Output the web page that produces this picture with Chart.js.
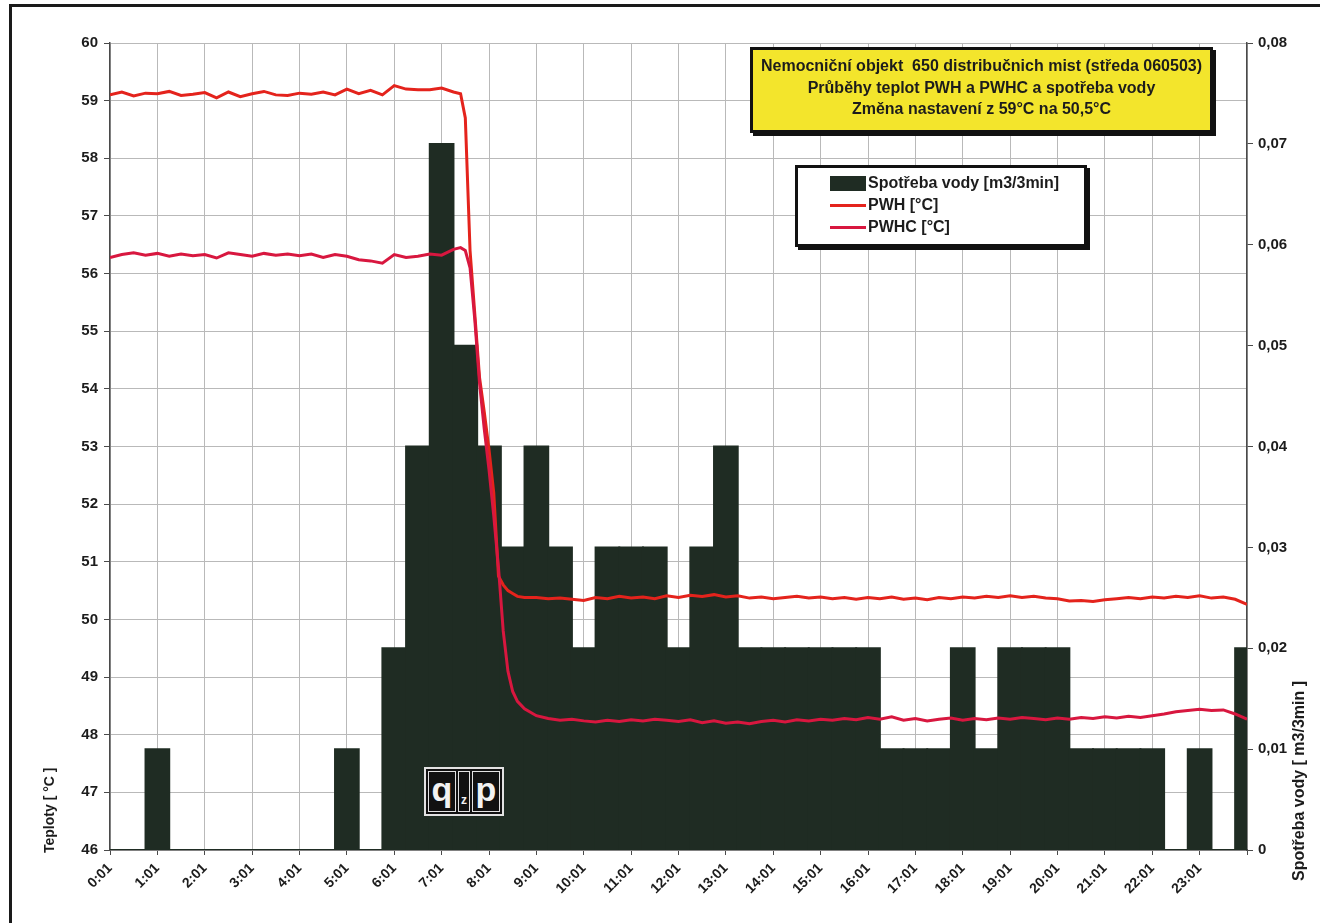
<!DOCTYPE html>
<html>
<head>
<meta charset="utf-8">
<title>Nemocniční objekt – průběhy teplot PWH a PWHC a spotřeba vody</title>
<script src="https://cdn.jsdelivr.net/npm/chart.js@4.4.1/dist/chart.umd.min.js"></script>
<style>
  body { margin: 0; background: #fff; font-family: "Liberation Sans", Arial, sans-serif; }
  #wrap { position: relative; width: 1320px; height: 923px; overflow: hidden; }
  #chart { position: absolute; left: 0; top: 0; }
  .frame { position: absolute; left: 9px; top: 4px; width: 1330px; height: 960px;
           border-left: 3px solid #1a1a1a; border-top: 3px solid #1a1a1a; pointer-events: none; }
  .titlebox { position: absolute; left: 750px; top: 47px; width: 457px; height: 75px;
              background: #f3e52c; border: 3px solid #111; box-shadow: 3px 3px 0 #111;
              text-align: center; font-weight: bold; font-size: 16px; line-height: 21.5px;
              color: #1c1c1c; padding-top: 5px; box-sizing: content-box; }
  .titlebox div { white-space: pre; }
  .legend { position: absolute; left: 795px; top: 165px; width: 286px; height: 72px;
            background: #fff; border: 3px solid #111; box-shadow: 3px 3px 0 #111; padding-top: 4px; }
  .legend .row { height: 22px; display: flex; align-items: center; padding-left: 32px;
                 font-weight: bold; font-size: 16px; color: #1c1c1c; }
  .legend .sw { display: inline-block; width: 36px; margin-right: 2px; }
  .legend .sw.box { height: 15px; }
  .legend .sw.line { height: 3px; }
  .logo { position: absolute; left: 424px; top: 767px; width: 72px; height: 41px;
          border: 2px solid #e2e2e2; background: #111; padding: 2px; display: flex; gap: 2px; }
  .logo span { display: flex; align-items: center; justify-content: center; color: #f2f2f2;
               border: 1.5px solid #e2e2e2; font-weight: bold; box-sizing: border-box; }
  .logo .big { flex: 1; font-size: 34px; line-height: 1; padding-bottom: 6px; }
  .logo .small { width: 12px; font-size: 12px; align-items: flex-end; padding-bottom: 4px; }
</style>
</head>
<body>
<div id="wrap">
  <canvas id="chart" width="1320" height="923"></canvas>
  <div class="frame"></div>
  <div class="titlebox">
    <div>Nemocniční objekt  650 distribučnich mist (středa 060503)</div>
    <div>Průběhy teplot PWH a PWHC a spotřeba vody</div>
    <div>Změna nastavení z 59°C na 50,5°C</div>
  </div>
  <div class="legend" id="legend"></div>
  <div class="logo"><span class="big">q</span><span class="small">z</span><span class="big">p</span></div>
</div>
<script>
// Half-hour water consumption bins (centre hour of each bin)
const barHours = [0, 0.5, 1, 1.5, 2, 2.5, 3, 3.5, 4, 4.5, 5, 5.5, 6, 6.5, 7, 7.5, 8, 8.5, 9, 9.5,
  10, 10.5, 11, 11.5, 12, 12.5, 13, 13.5, 14, 14.5, 15, 15.5, 16, 16.5, 17, 17.5, 18, 18.5, 19, 19.5,
  20, 20.5, 21, 21.5, 22, 22.5, 23, 23.5, 24];
const waterUse = [0, 0, 0.01, 0, 0, 0, 0, 0, 0, 0, 0.01, 0, 0.02, 0.04, 0.07, 0.05, 0.04, 0.03, 0.04, 0.03,
  0.02, 0.03, 0.03, 0.03, 0.02, 0.03, 0.04, 0.02, 0.02, 0.02, 0.02, 0.02, 0.02, 0.01, 0.01, 0.01, 0.02, 0.01, 0.02, 0.02,
  0.02, 0.01, 0.01, 0.01, 0.01, 0, 0.01, 0, 0.02];

// Temperature samples (hour of day)
const lineHours = [0, 0.25, 0.5, 0.75, 1, 1.25, 1.5, 1.75, 2, 2.25, 2.5, 2.75, 3, 3.25, 3.5, 3.75,
  4, 4.25, 4.5, 4.75, 5, 5.25, 5.5, 5.75, 6, 6.25, 6.5, 6.75, 7, 7.25,
  7.4, 7.5, 7.6, 7.7, 7.8, 7.9, 8, 8.1, 8.2, 8.3, 8.4, 8.5, 8.6, 8.75,
  9, 9.25, 9.5, 9.75, 10, 10.25, 10.5, 10.75, 11, 11.25, 11.5, 11.75, 12, 12.25, 12.5, 12.75,
  13, 13.25, 13.5, 13.75, 14, 14.25, 14.5, 14.75, 15, 15.25, 15.5, 15.75, 16, 16.25, 16.5, 16.75,
  17, 17.25, 17.5, 17.75, 18, 18.25, 18.5, 18.75, 19, 19.25, 19.5, 19.75, 20, 20.25, 20.5, 20.75,
  21, 21.25, 21.5, 21.75, 22, 22.25, 22.5, 22.75, 23, 23.25, 23.5, 23.75, 24];
const pwhTemps = [59.10, 59.15, 59.08, 59.13, 59.12, 59.16, 59.09, 59.11, 59.14, 59.05, 59.15, 59.07, 59.12, 59.16, 59.10, 59.09,
  59.13, 59.11, 59.15, 59.10, 59.20, 59.12, 59.18, 59.10, 59.26, 59.20, 59.19, 59.19, 59.22, 59.15,
  59.12, 58.70, 56.40, 55.30, 54.20, 53.60, 52.95, 52.20, 50.75, 50.60, 50.50, 50.45, 50.40, 50.38,
  50.38, 50.36, 50.37, 50.35, 50.33, 50.38, 50.36, 50.40, 50.37, 50.39, 50.36, 50.41, 50.38, 50.42, 50.40, 50.43,
  50.39, 50.41, 50.37, 50.39, 50.36, 50.38, 50.40, 50.37, 50.39, 50.36, 50.38, 50.35, 50.38, 50.36, 50.39, 50.35,
  50.37, 50.34, 50.38, 50.36, 50.39, 50.37, 50.40, 50.38, 50.41, 50.38, 50.40, 50.37, 50.36, 50.32, 50.33, 50.31,
  50.34, 50.36, 50.38, 50.36, 50.39, 50.37, 50.40, 50.38, 50.41, 50.37, 50.39, 50.35, 50.26];
const pwhcTemps = [56.28, 56.33, 56.36, 56.32, 56.35, 56.30, 56.34, 56.31, 56.33, 56.27, 56.36, 56.33, 56.30, 56.35, 56.32, 56.34,
  56.31, 56.34, 56.28, 56.33, 56.30, 56.24, 56.22, 56.18, 56.33, 56.28, 56.30, 56.34, 56.32, 56.42,
  56.45, 56.40, 56.10, 55.20, 54.10, 53.30, 52.60, 51.80, 50.90, 49.80, 49.10, 48.75, 48.58, 48.45,
  48.33, 48.28, 48.25, 48.27, 48.24, 48.22, 48.25, 48.23, 48.26, 48.24, 48.27, 48.25, 48.23, 48.26, 48.21, 48.24,
  48.20, 48.22, 48.19, 48.23, 48.25, 48.22, 48.26, 48.24, 48.27, 48.25, 48.28, 48.26, 48.30, 48.27, 48.31, 48.25,
  48.28, 48.24, 48.27, 48.29, 48.25, 48.28, 48.26, 48.29, 48.27, 48.30, 48.28, 48.26, 48.29, 48.27, 48.30, 48.28,
  48.31, 48.29, 48.32, 48.30, 48.33, 48.36, 48.40, 48.42, 48.44, 48.42, 48.43, 48.36, 48.27];

// Tick labels
const hourLabels = ['0:01', '1:01', '2:01', '3:01', '4:01', '5:01', '6:01', '7:01', '8:01', '9:01', '10:01', '11:01',
  '12:01', '13:01', '14:01', '15:01', '16:01', '17:01', '18:01', '19:01', '20:01', '21:01', '22:01', '23:01'];
const waterTickLabels = ['0', '0,01', '0,02', '0,03', '0,04', '0,05', '0,06', '0,07', '0,08'];

const FONT = '"Liberation Sans", Arial, sans-serif';
const gridColor = '#b9b9b9';
const axisColor = '#4a4a4a';

// vertical axis titles read bottom-to-top on both sides
const axisTitles = {
  id: 'axisTitles',
  afterDraw(chart) {
    const ctx = chart.ctx;
    const area = chart.chartArea;
    ctx.save();
    ctx.fillStyle = '#1c1c1c';
    ctx.textBaseline = 'middle';
    ctx.textAlign = 'left';
    ctx.font = 'bold 14px ' + FONT;
    ctx.translate(50, area.bottom + 3);
    ctx.rotate(-Math.PI / 2);
    ctx.fillText('Teploty [ °C ]', 0, 0);
    ctx.restore();

    ctx.save();
    ctx.fillStyle = '#1c1c1c';
    ctx.textBaseline = 'middle';
    ctx.textAlign = 'left';
    ctx.font = 'bold 16px ' + FONT;
    ctx.translate(area.right + 53, 881);
    ctx.rotate(-Math.PI / 2);
    ctx.fillText('Spotřeba vody [ m3/3min ]', 0, 0);
    ctx.restore();
  }
};

const tickFont = { family: FONT, size: 15, weight: 'bold' };

const chart = new Chart(document.getElementById('chart'), {
  type: 'bar',
  data: {
    datasets: [
      {
        type: 'bar',
        label: 'Spotřeba vody [m3/3min]',
        data: barHours.map((h, i) => ({ x: h, y: waterUse[i] })),
        yAxisID: 'y1',
        backgroundColor: '#1f2c23',
        borderWidth: 0,
        inflateAmount: 1,
        barPercentage: 1,
        categoryPercentage: 1,
        clip: 0,
        order: 2
      },
      {
        type: 'line',
        label: 'PWH [°C]',
        data: lineHours.map((h, i) => ({ x: h, y: pwhTemps[i] })),
        yAxisID: 'y',
        borderColor: '#e4231c',
        borderWidth: 3,
        pointRadius: 0,
        tension: 0,
        order: 1
      },
      {
        type: 'line',
        label: 'PWHC [°C]',
        data: lineHours.map((h, i) => ({ x: h, y: pwhcTemps[i] })),
        yAxisID: 'y',
        borderColor: '#d8173f',
        borderWidth: 3,
        pointRadius: 0,
        tension: 0,
        order: 0
      }
    ]
  },
  options: {
    responsive: false,
    animation: false,
    devicePixelRatio: 1,
    layout: { padding: { top: 43, left: 0, right: 0, bottom: 0 } },
    plugins: {
      legend: { display: false },
      tooltip: { enabled: false }
    },
    scales: {
      x: {
        type: 'linear',
        min: 0,
        max: 24,
        offset: false,
        grid: { color: gridColor, offset: false, tickLength: 5, tickColor: axisColor },
        border: { color: axisColor, width: 1.5 },
        ticks: {
          stepSize: 1,
          autoSkip: false,
          minRotation: 45,
          maxRotation: 45,
          padding: 5,
          color: '#1c1c1c',
          font: { family: FONT, size: 14, weight: 'bold' },
          callback: (value) => hourLabels[value] ?? ''
        },
        afterFit: (scale) => { scale.height = 73; }
      },
      y: {
        position: 'left',
        min: 46,
        max: 60,
        grid: { color: gridColor, tickLength: 6, tickColor: axisColor },
        border: { color: axisColor, width: 1.5 },
        ticks: { stepSize: 1, padding: 6, color: '#1c1c1c', font: tickFont },
        afterFit: (scale) => { scale.width = 110; }
      },
      y1: {
        position: 'right',
        min: 0,
        max: 0.08,
        grid: { drawOnChartArea: false, tickLength: 6, tickColor: axisColor },
        border: { color: axisColor, width: 1.5 },
        ticks: {
          stepSize: 0.01,
          padding: 5,
          color: '#1c1c1c',
          font: tickFont,
          callback: (value) => waterTickLabels[Math.round(value * 100)]
        },
        afterFit: (scale) => { scale.width = 73; }
      }
    }
  },
  plugins: [axisTitles]
});

// legend box built from the datasets
const legendEl = document.getElementById('legend');
chart.data.datasets.forEach(ds => {
  const row = document.createElement('div');
  row.className = 'row';
  const sw = document.createElement('span');
  sw.className = ds.type === 'bar' ? 'sw box' : 'sw line';
  sw.style.background = ds.type === 'bar' ? ds.backgroundColor : ds.borderColor;
  row.appendChild(sw);
  row.appendChild(document.createTextNode(ds.label));
  legendEl.appendChild(row);
});
</script>
</body>
</html>
